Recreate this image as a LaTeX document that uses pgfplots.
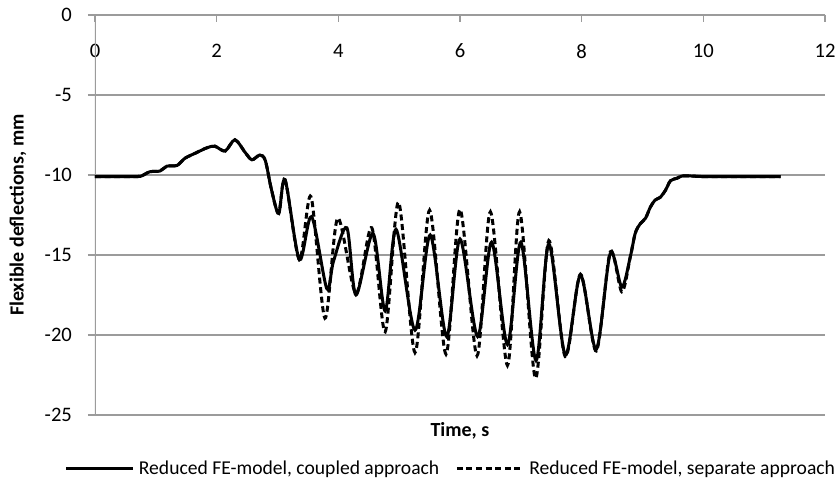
\documentclass[border=0pt]{standalone}
\usepackage{fontspec}
\setmainfont{Carlito}
\usepackage{pgfplots}
\pgfplotsset{compat=1.18}
\definecolor{gridgray}{RGB}{155,155,155}
\begin{document}
\begin{tikzpicture}
\useasboundingbox (-47.5pt,-35pt) rectangle (372.5pt,207.5pt);
\begin{axis}[
 at={(0,0)}, anchor=south west,
 scale only axis, width=365pt, height=200pt,
 xmin=0, xmax=12, ymin=-25, ymax=0,
 xtick={0,2,...,12}, ytick={-25,-20,...,0},
 axis line style={draw=none},
 ymajorgrids, grid style={gridgray, line width=0.6pt},
 xtick pos=upper, ytick pos=left,
 tick align=inside, major tick length=3.5pt,
 tick style={gridgray, line width=0.6pt},
 ytick style={xshift=-3.5pt},
 xticklabel pos=upper,
 xticklabel style={anchor=north, yshift=-11pt},
 yticklabel style={anchor=east, xshift=-8pt},
 ticklabel style={font=\fontsize{10.3}{12}\selectfont},
 /pgf/number format/assume math mode=true,
 xlabel={Time, s}, ylabel={Flexible deflections, mm},
 xlabel style={at={(axis description cs:0.5,-0.04)}, anchor=center, font=\bfseries\fontsize{10}{12}\selectfont},
 ylabel style={at={(axis description cs:-0.1055,0.5)}, anchor=center, font=\bfseries\fontsize{10}{12}\selectfont},
 legend columns=2,
 legend style={at={(axis description cs:0.489,-0.135)}, anchor=center, draw=none, fill=none,
   font=\fontsize{9.8}{11}\selectfont, inner sep=0pt,
   /tikz/every even column/.append style={column sep=6pt}},
 legend image code/.code={\draw[#1] (0pt,0pt) -- (33.5pt,0pt);},
]
\draw[gridgray, line width=0.6pt] (axis cs:0,-25) -- (axis cs:0,0);
\addplot[black, line width=1.5pt, smooth, tension=0.5] coordinates {
(0,-10.1) (0.3,-10.1) (0.6,-10.1) (0.75,-10.08) (0.9,-9.8) (1.07,-9.75) (1.18,-9.45)
(1.35,-9.4) (1.48,-8.95) (1.67,-8.6) (1.84,-8.3) (1.97,-8.2) (2.14,-8.5) (2.30,-7.8)
(2.47,-8.6) (2.58,-9.05) (2.71,-8.75) (2.80,-9.1) (2.9,-10.9) (3.02,-12.4) (3.125,-10.3)
(3.36,-15.3) (3.56,-12.6) (3.81,-17.1) (3.92,-15.4) (4.14,-13.3) (4.29,-17.5) (4.57,-13.65)
(4.77,-18.5) (4.95,-13.4) (5.26,-19.7) (5.51,-13.75) (5.78,-20.1) (6.0,-14.0) (6.29,-20.1)
(6.52,-14.2) (6.78,-20.6) (7.0,-14.2) (7.25,-21.6) (7.46,-14.3) (7.73,-21.25) (7.98,-16.25)
(8.24,-20.9) (8.47,-14.9) (8.66,-17.0) (8.8,-15.1) (8.88,-13.65) (8.96,-13.06) (9.05,-12.7)
(9.13,-12.0) (9.21,-11.56) (9.29,-11.4) (9.38,-10.94) (9.46,-10.36) (9.57,-10.2) (9.68,-10.05)
(10,-10.1) (10.5,-10.1) (11,-10.1) (11.27,-10.1)
};
\addlegendentry{Reduced FE-model, coupled approach}
\addplot[black, line width=1.5pt, dash pattern=on 3pt off 1.8pt, smooth, tension=0.5] coordinates {
(0,-10.1) (0.3,-10.1) (0.6,-10.1) (0.75,-10.08) (0.9,-9.8) (1.07,-9.75) (1.18,-9.45)
(1.35,-9.4) (1.48,-8.95) (1.67,-8.6) (1.84,-8.3) (1.97,-8.2) (2.14,-8.5) (2.30,-7.8)
(2.47,-8.6) (2.58,-9.05) (2.71,-8.75) (2.80,-9.1) (2.9,-10.9) (3.02,-12.4) (3.125,-10.3)
(3.36,-15.3) (3.55,-11.35) (3.78,-18.95) (3.99,-12.7) (4.29,-17.4) (4.55,-13.3)
(4.77,-19.8) (4.99,-11.7) (5.26,-21.1) (5.5,-12.2) (5.77,-21.2) (6.0,-12.15) (6.28,-21.3)
(6.5,-12.3) (6.78,-21.9) (6.98,-12.3) (7.24,-22.7) (7.46,-14.1) (7.73,-21.35) (7.98,-16.2)
(8.24,-21.0) (8.47,-14.8) (8.66,-17.3) (8.8,-15.1) (8.88,-13.65) (8.96,-13.06) (9.05,-12.7)
(9.13,-12.0) (9.21,-11.56) (9.29,-11.4) (9.38,-10.94) (9.46,-10.36) (9.57,-10.2) (9.68,-10.05)
(10,-10.1) (10.5,-10.1) (11,-10.1) (11.27,-10.1)
};
\addlegendentry{Reduced FE-model, separate approach}
\end{axis}
\end{tikzpicture}
\end{document}
